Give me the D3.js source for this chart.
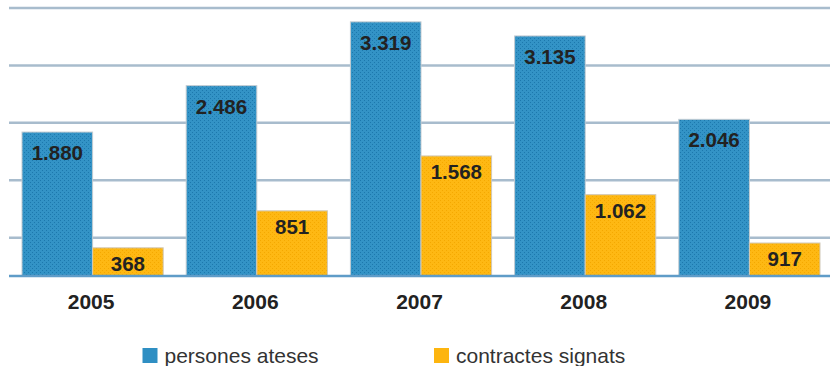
<!DOCTYPE html>
<html>
<head>
<meta charset="utf-8">
<script src="https://cdn.jsdelivr.net/npm/d3@7"></script>
<style>
  html, body { margin: 0; padding: 0; background: #fff; }
  svg { display: block; font-family: "Liberation Sans", Arial, Helvetica, sans-serif; }
</style>
</head>
<body>
<svg id="chart" width="830" height="366"></svg>
<script>
const years = ["2005", "2006", "2007", "2008", "2009"];
const personesAteses = [1880, 2486, 3319, 3135, 2046];
// bar heights as drawn in the picture (the 2009 bar is drawn shorter than its label)
const contractesSignats = [368, 851, 1568, 1062, 431];
const gridValues = [500, 1250, 2000, 2750, 3500];
const seriesNames = ["persones ateses", "contractes signats"];
const seriesColors = ["#2f8fc3", "#fdb50f"];
const labelText = ["1.880", "2.486", "3.319", "3.135", "2.046"];
const labelText2 = ["368", "851", "1.568", "1.062", "917"];

const svg = d3.select("#chart");
const defs = svg.append("defs");

function makePattern(id, base, dot) {
  const p = defs.append("pattern").attr("id", id).attr("patternUnits", "userSpaceOnUse")
    .attr("width", 4).attr("height", 4);
  p.append("rect").attr("width", 4).attr("height", 4).attr("fill", base);
  p.append("rect").attr("x", 0).attr("y", 0).attr("width", 1).attr("height", 1).attr("fill", dot);
  p.append("rect").attr("x", 2).attr("y", 2).attr("width", 1).attr("height", 1).attr("fill", dot);
}
makePattern("patBlue", "#3393c6", "#1c78ad");
makePattern("patOrange", "#feb813", "#f4a800");

const plotLeft = 9, plotRight = 830;
const x = d3.scaleBand().domain(years).range([plotLeft, plotRight]).paddingInner(0).paddingOuter(0);
const y = d3.scaleLinear().domain([0, 3500]).range([276, 8]);

svg.append("g").selectAll("line").data(gridValues).join("line")
  .attr("x1", plotLeft).attr("x2", plotRight)
  .attr("y1", d => y(d)).attr("y2", d => y(d))
  .attr("stroke", "#a8bccd").attr("stroke-width", 2.5);

const innerPad = 13;
const barW = (x.bandwidth() - 23) / 2;

const data = years.map((yr, i) => ({ yr, a: personesAteses[i], b: contractesSignats[i], la: labelText[i], lb: labelText2[i] }));

const g = svg.append("g");
g.selectAll("rect.a").data(data).join("rect").attr("class", "a")
  .attr("x", d => x(d.yr) + innerPad)
  .attr("y", d => y(d.a))
  .attr("width", barW)
  .attr("height", d => y(0) - y(d.a))
  .attr("fill", "url(#patBlue)")
  .attr("stroke", "#c4ccd2").attr("stroke-width", 1);
g.selectAll("rect.b").data(data).join("rect").attr("class", "b")
  .attr("x", d => x(d.yr) + innerPad + barW)
  .attr("y", d => y(d.b))
  .attr("width", barW)
  .attr("height", d => y(0) - y(d.b))
  .attr("fill", "url(#patOrange)")
  .attr("stroke", "#d0c8b8").attr("stroke-width", 1);

svg.append("line").attr("x1", plotLeft).attr("x2", plotRight)
  .attr("y1", y(0)).attr("y2", y(0))
  .attr("stroke", "#5f9cc8").attr("stroke-width", 2.5);

g.selectAll("text.la").data(data).join("text").attr("class", "la")
  .attr("x", d => x(d.yr) + innerPad + barW / 2)
  .attr("y", d => y(d.a) + 28)
  .attr("text-anchor", "middle")
  .attr("font-size", 20.5).attr("font-weight", "bold").attr("fill", "#222")
  .text(d => d.la);
g.selectAll("text.lb").data(data).join("text").attr("class", "lb")
  .attr("x", d => x(d.yr) + innerPad + barW * 1.5)
  .attr("y", d => y(d.b) + 23)
  .attr("text-anchor", "middle")
  .attr("font-size", 20.5).attr("font-weight", "bold").attr("fill", "#222")
  .text(d => d.lb);

const xAxis = d3.axisBottom(x).tickSize(0).tickPadding(0);
const ax = svg.append("g").attr("transform", "translate(0,309)").call(xAxis);
ax.select(".domain").remove();
ax.selectAll("text")
  .attr("dy", 0).attr("y", 0)
  .attr("font-size", 21).attr("font-weight", "bold").attr("fill", "#222")
  .attr("font-family", "\"Liberation Sans\", Arial, sans-serif");

const legendX = [142.5, 434];
const leg = svg.append("g").selectAll("g").data(seriesNames).join("g")
  .attr("transform", (d, i) => `translate(${legendX[i]},348)`);
leg.append("rect").attr("width", 15).attr("height", 15).attr("fill", (d, i) => seriesColors[i]);
leg.append("text").attr("x", 22).attr("y", 15)
  .attr("font-size", 21).attr("fill", "#333").text(d => d);
</script>
</body>
</html>
